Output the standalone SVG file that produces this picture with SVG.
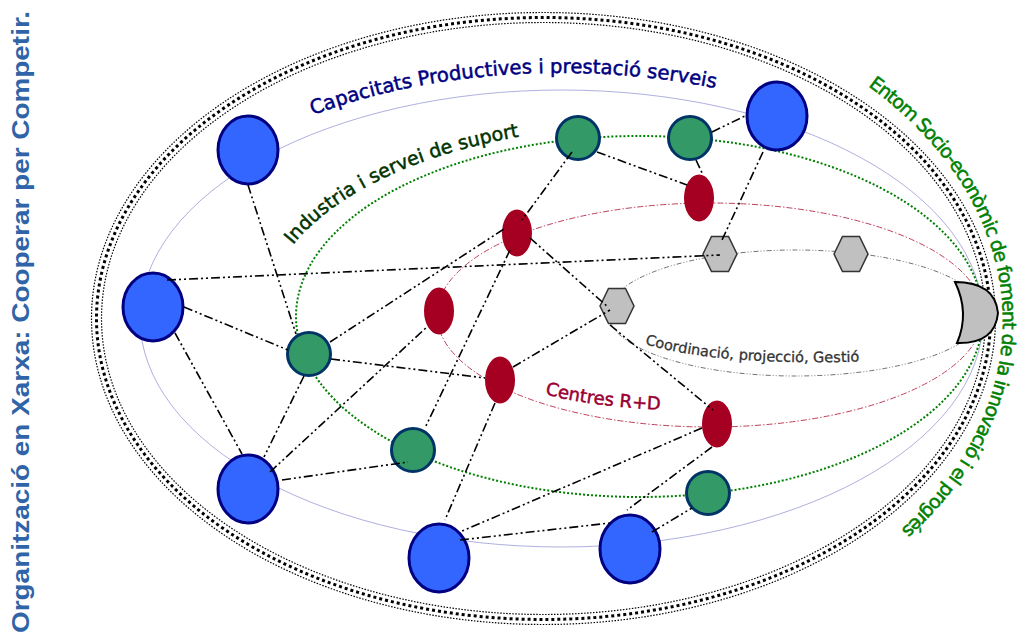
<svg xmlns="http://www.w3.org/2000/svg" width="1019" height="637" viewBox="0 0 1019 637">
<style>
.blue{fill:#3366ff;stroke:#000080;stroke-width:3}
.green{fill:#339966;stroke:#003366;stroke-width:3}
.red{fill:#a50021;stroke:none}
.hex{fill:#c0c0c0;stroke:#333;stroke-width:1.5}
.con line{stroke:#000;stroke-width:1.6;stroke-dasharray:9 3 2 3 2 3;fill:none}
.ring{fill:none}
.t{font-family:"DejaVu Sans",Verdana,sans-serif;stroke-width:0.5}
</style>
<rect width="1019" height="637" fill="#fff"/>
<g id="outer-border" fill="none" stroke="#000">
<ellipse cx="543.5" cy="318.5" rx="452" ry="306" stroke-width="1.2" stroke-dasharray="1.5 1.5"/>
<ellipse cx="543.5" cy="318.5" rx="447" ry="301" stroke-width="3" stroke-dasharray="3 3"/>
<ellipse cx="543.5" cy="318.5" rx="442" ry="296" stroke-width="1.2" stroke-dasharray="1.5 1.5"/>
</g>
<g id="rings">
<ellipse class="ring" cx="561.5" cy="318.5" rx="421.5" ry="228.5" stroke="#9a9ad8" stroke-width="0.8"/>
<ellipse class="ring" cx="639.5" cy="316.5" rx="343.5" ry="180.5" stroke="#008000" stroke-width="2" stroke-dasharray="2 2"/>
<ellipse class="ring" cx="710" cy="315" rx="273" ry="112" stroke="#c0405a" stroke-width="1" stroke-dasharray="6 2 1.5 2"/>
<ellipse class="ring" cx="795.5" cy="313" rx="187.5" ry="63" stroke="#707070" stroke-width="1" stroke-dasharray="5 2 1 2 1 2"/>
</g>
<g id="crescent"><path d="M955 282 Q995 282 998 313 Q995 344 957 343 Q970 313 955 282 Z" fill="#c0c0c0" stroke="#000" stroke-width="2"/></g>
<g id="blue1"><ellipse class="blue" cx="248" cy="150" rx="30" ry="34"/></g>
<g id="blue2"><ellipse class="blue" cx="153" cy="307" rx="30" ry="34"/></g>
<g id="blue3"><ellipse class="blue" cx="248" cy="489" rx="30" ry="34"/></g>
<g id="blue4"><ellipse class="blue" cx="439" cy="558" rx="30" ry="34"/></g>
<g id="blue5"><ellipse class="blue" cx="630" cy="549" rx="30" ry="34"/></g>
<g id="blue6"><ellipse class="blue" cx="777" cy="116" rx="30" ry="34"/></g>
<g id="green1"><circle class="green" cx="578" cy="138" r="21.5"/></g>
<g id="green2"><circle class="green" cx="690" cy="138" r="21.5"/></g>
<g id="green3"><circle class="green" cx="309" cy="354" r="21.5"/></g>
<g id="green4"><circle class="green" cx="413" cy="450" r="21.5"/></g>
<g id="green5"><circle class="green" cx="708" cy="493" r="21.5"/></g>
<g id="red1"><ellipse class="red" cx="517" cy="233" rx="15" ry="23.5"/></g>
<g id="red2"><ellipse class="red" cx="439" cy="311" rx="15" ry="23.5"/></g>
<g id="red3"><ellipse class="red" cx="500" cy="380" rx="15" ry="23.5"/></g>
<g id="red4"><ellipse class="red" cx="699" cy="198" rx="15" ry="23.5"/></g>
<g id="red5"><ellipse class="red" cx="717" cy="424" rx="15" ry="23.5"/></g>
<g id="hex1"><polygon class="hex" points="600,306 608.5,288.5 625.5,288.5 634,306 625.5,323.5 608.5,323.5"/></g>
<g id="hex2"><polygon class="hex" points="703,254 711.5,236.5 728.5,236.5 737,254 728.5,271.5 711.5,271.5"/></g>
<g id="hex3"><polygon class="hex" points="834,254 842.5,236.5 859.5,236.5 868,254 859.5,271.5 842.5,271.5"/></g>
<g id="connectors" class="con">
<line x1="248" y1="185" x2="296" y2="334"/>
<line x1="167" y1="280" x2="720" y2="255"/>
<line x1="184" y1="307" x2="288" y2="350"/>
<line x1="175" y1="333" x2="242" y2="454"/>
<line x1="330" y1="342" x2="504" y2="229"/>
<line x1="331" y1="359" x2="485" y2="378"/>
<line x1="304" y1="376" x2="264" y2="457"/>
<line x1="270" y1="472" x2="428" y2="326"/>
<line x1="282" y1="480" x2="408" y2="462"/>
<line x1="510" y1="250" x2="425" y2="428"/>
<line x1="572" y1="152" x2="522" y2="220"/>
<line x1="597" y1="152" x2="687" y2="185"/>
<line x1="712" y1="132" x2="747" y2="115"/>
<line x1="696" y1="160" x2="703" y2="175"/>
<line x1="763" y1="152" x2="722" y2="240"/>
<line x1="530" y1="238" x2="608" y2="307"/>
<line x1="513" y1="367" x2="610" y2="310"/>
<line x1="610" y1="325" x2="713" y2="410"/>
<line x1="495" y1="403" x2="445" y2="520"/>
<line x1="702" y1="428" x2="460" y2="532"/>
<line x1="712" y1="447" x2="627" y2="510"/>
<line x1="460" y1="540" x2="610" y2="523"/>
<line x1="652" y1="532" x2="692" y2="508"/>
</g>
<defs>
<path id="pCap" d="M313 115 A443 245 0 0 1 900 160"/>
<path id="pInd" d="M293 245 A375 191.5 0 0 1 800 145"/>
<path id="pCen" d="M545 394 Q600 410 720 412"/>
<path id="pCoo" d="M645 344 Q720 367 880 361"/>
<path id="pEnt" d="M868 86 A458 332 0 0 1 860 562"/>
</defs>
<g id="labels" class="t">
<text font-size="19.6" fill="#000080" stroke="#000080"><textPath href="#pCap">Capacitats Productives i prestació serveis</textPath></text>
<text font-size="19" fill="#003300" stroke="#003300"><textPath href="#pInd">Industria i servei de suport</textPath></text>
<text font-size="18" fill="#990033" stroke="#990033"><textPath href="#pCen">Centres R+D</textPath></text>
<text font-size="14.5" fill="#333333" stroke="#333333" stroke-width="0.3"><textPath href="#pCoo">Coordinació, projecció, Gestió</textPath></text>
<text font-size="19" fill="#008000" stroke="#008000" letter-spacing="-1.1"><textPath href="#pEnt">Entom Socio-econòmic de foment de la innovació i el progrés</textPath></text>
</g>
<g id="title"><text transform="translate(29,633) rotate(-90)" font-family="'Liberation Sans',Arial,sans-serif" font-weight="bold" font-size="24" fill="#2f64a8" textLength="622" lengthAdjust="spacingAndGlyphs">Organització en Xarxa: Cooperar per Competir.</text></g>
</svg>
